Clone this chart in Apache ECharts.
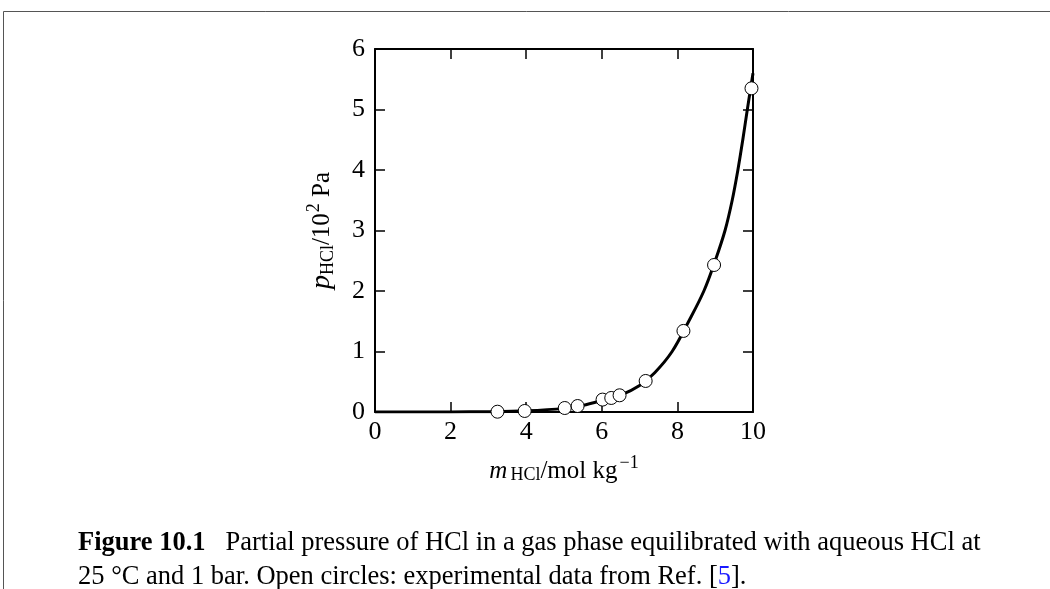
<!DOCTYPE html>
<html>
<head>
<meta charset="utf-8">
<script src="https://cdn.jsdelivr.net/npm/echarts@6/dist/echarts.min.js"></script>
<style>
  html, body { margin: 0; padding: 0; background: #fff; }
  #main { width: 1050px; height: 589px; }
</style>
</head>
<body>
<div id="main"></div>
<script>
// experimental points (open circles), molality / mol kg^-1 and p / 10^2 Pa
var expM = [3.24, 3.96, 5.02, 5.36, 6.02, 6.25, 6.47, 7.16, 8.16, 8.97, 9.96];
var expP = [0.005, 0.017, 0.066, 0.099, 0.205, 0.232, 0.276, 0.513, 1.34, 2.43, 5.35];

// smooth curve
var curveM = [0, 1, 2, 3, 4, 5, 5.5, 6, 6.5, 7.0, 7.4, 7.86, 8.3, 8.7, 9.0, 9.26, 9.45, 9.6, 9.73, 9.85, 10];
var curveP = [0, 0, 0.001, 0.005, 0.02, 0.06, 0.11, 0.19, 0.28, 0.44, 0.65, 1.0, 1.5, 2.0, 2.5, 3.0, 3.5, 4.0, 4.5, 5.0, 5.6];

var xTicks = [0, 2, 4, 6, 8, 10];
var yTicks = [0, 1, 2, 3, 4, 5, 6];

var serif = '"Liberation Serif", "DejaVu Serif", serif';

var chart = echarts.init(document.getElementById('main'));

function pairs(a, b) {
    var out = [];
    for (var i = 0; i < a.length; i++) out.push([a[i], b[i]]);
    return out;
}

var tickStyle = { show: true, inside: true, length: 10, lineStyle: { color: '#000', width: 1.5 } };
var lineStyle = { show: true, onZero: false, lineStyle: { color: '#000', width: 2 } };

var option = {
    backgroundColor: '#fff',
    animation: false,
    grid: { left: 375, right: 297, top: 49, bottom: 177 },
    xAxis: [{
        type: 'value', min: xTicks[0], max: xTicks[xTicks.length - 1], interval: 2,
        position: 'bottom',
        axisLine: lineStyle, axisTick: tickStyle, splitLine: { show: false },
        axisLabel: { color: '#000', fontFamily: serif, fontSize: 26, margin: 7 },
        name: '{i|m}{sub|HCl}{n|/mol kg}{sup|−1}',
        nameLocation: 'middle', nameGap: 42,
        nameTextStyle: {
            rich: {
                i: { fontFamily: serif, fontStyle: 'italic', fontSize: 25, color: '#000', lineHeight: 34, verticalAlign: 'middle' },
                sub: { fontFamily: serif, fontSize: 18, color: '#000', lineHeight: 34, verticalAlign: 'bottom', padding: [0, 0, 4, 3] },
                n: { fontFamily: serif, fontSize: 25, color: '#000', lineHeight: 34, verticalAlign: 'middle' },
                sup: { fontFamily: serif, fontSize: 18, color: '#000', lineHeight: 34, verticalAlign: 'top', padding: [0, 0, 0, 2] }
            }
        }
    }, {
        type: 'value', min: xTicks[0], max: xTicks[xTicks.length - 1], interval: 2,
        position: 'top',
        axisLine: lineStyle, axisTick: tickStyle, splitLine: { show: false },
        axisLabel: { show: false }
    }],
    yAxis: [{
        type: 'value', min: yTicks[0], max: yTicks[yTicks.length - 1], interval: 1,
        position: 'left',
        axisLine: lineStyle, axisTick: tickStyle, splitLine: { show: false },
        axisLabel: { color: '#000', fontFamily: serif, fontSize: 26, margin: 10 },
        name: '{i|p}{sub|HCl}{n|/10}{sup|2}{n| Pa}',
        nameLocation: 'middle', nameGap: 36, nameRotate: 90,
        nameTextStyle: {
            rich: {
                i: { fontFamily: serif, fontStyle: 'italic', fontSize: 28, color: '#000', lineHeight: 34, verticalAlign: 'middle' },
                sub: { fontFamily: serif, fontSize: 18, color: '#000', lineHeight: 34, verticalAlign: 'bottom', padding: [0, 0, 2, 0] },
                n: { fontFamily: serif, fontSize: 25, color: '#000', lineHeight: 34, verticalAlign: 'middle' },
                sup: { fontFamily: serif, fontSize: 18, color: '#000', lineHeight: 34, verticalAlign: 'top', padding: [0, 0, 0, 1] }
            }
        }
    }, {
        type: 'value', min: yTicks[0], max: yTicks[yTicks.length - 1], interval: 1,
        position: 'right',
        axisLine: lineStyle, axisTick: tickStyle, splitLine: { show: false },
        axisLabel: { show: false }
    }],
    series: [{
        type: 'line',
        data: pairs(curveM, curveP),
        smooth: 0.35,
        showSymbol: false,
        lineStyle: { color: '#000', width: 3 },
        z: 2
    }, {
        type: 'scatter',
        data: pairs(expM, expP),
        symbol: 'circle',
        symbolSize: 13,
        itemStyle: { color: '#fff', borderColor: '#000', borderWidth: 1, opacity: 1 },
        z: 3
    }],
    graphic: [
        // page frame
        { type: 'line', shape: { x1: 3.5, y1: 11.5, x2: 1050, y2: 11.5 }, style: { stroke: '#555', lineWidth: 1 } },
        { type: 'line', shape: { x1: 3.5, y1: 11.5, x2: 3.5, y2: 589 }, style: { stroke: '#555', lineWidth: 1 } },
        // caption
        {
            type: 'text', left: 78, top: 530,
            style: {
                text: '{b|Figure 10.1}{n|   Partial pressure of HCl in a gas phase equilibrated with aqueous HCl at}',
                rich: {
                    b: { fontFamily: serif, fontWeight: 'bold', fontSize: 26.5, fill: '#000' },
                    n: { fontFamily: serif, fontSize: 26.5, fill: '#000' }
                }
            }
        },
        {
            type: 'text', left: 78, top: 564,
            style: {
                text: '{n|25 °C and 1 bar. Open circles: experimental data from Ref. [}{a|5}{n|].}',
                rich: {
                    n: { fontFamily: serif, fontSize: 26.5, fill: '#000' },
                    a: { fontFamily: serif, fontSize: 26.5, fill: '#1a1aff' }
                }
            }
        }
    ]
};

chart.setOption(option);
</script>
</body>
</html>
